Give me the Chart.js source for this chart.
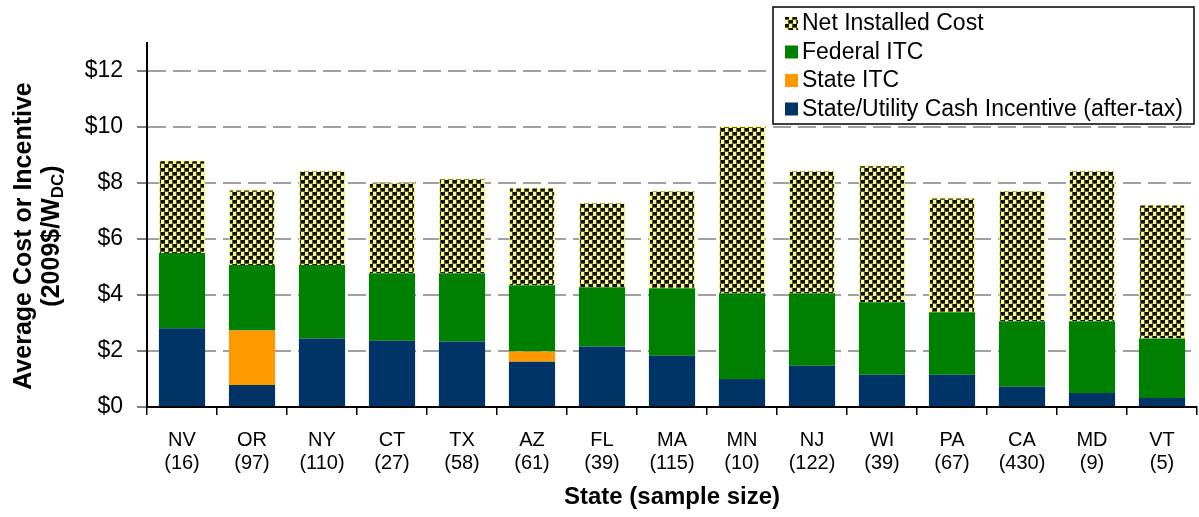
<!DOCTYPE html>
<html>
<head>
<meta charset="utf-8">
<script src="https://cdn.jsdelivr.net/npm/chart.js@4.4.1/dist/chart.umd.min.js"></script>
<style>
  html, body { margin: 0; padding: 0; background: #fff; }
  #wrap { width: 1199px; height: 517px; }
</style>
</head>
<body>
<div id="wrap"><canvas id="costChart"></canvas></div>
<script>
// values, $/W (2009$)
const states = ['NV', 'OR', 'NY', 'CT', 'TX', 'AZ', 'FL', 'MA', 'MN', 'NJ', 'WI', 'PA', 'CA', 'MD', 'VT'];
const sampleSizes = [16, 97, 110, 27, 58, 61, 39, 115, 10, 122, 39, 67, 430, 9, 5];
const cashIncentive = [2.81, 0.79, 2.45, 2.37, 2.34, 1.62, 2.16, 1.83, 1.00, 1.47, 1.15, 1.15, 0.72, 0.50, 0.32];
const stateItc = [0, 1.94, 0, 0, 0, 0.36, 0, 0, 0, 0, 0, 0, 0, 0, 0];
const federalItc = [2.69, 2.34, 2.62, 2.41, 2.44, 2.37, 2.12, 2.41, 3.06, 2.59, 2.59, 2.23, 2.34, 2.56, 2.13];
const netCost = [3.31, 2.70, 3.38, 3.24, 3.39, 3.49, 3.02, 3.49, 5.98, 4.39, 4.89, 4.10, 4.67, 5.39, 4.78];
const yTicks = [0, 2, 4, 6, 8, 10, 12];

const SANS = "'Liberation Sans', Arial, sans-serif";

// dotted fill for the net cost segment
function makeDots() {
    const c = document.createElement('canvas');
    c.width = 8; c.height = 8;
    const g = c.getContext('2d');
    g.fillStyle = '#fafa8c';
    g.fillRect(0, 0, 8, 8);
    g.fillStyle = '#5c5c38';
    [[0, 0, 5, 4], [4, 4, 4, 4], [0, 4, 1, 4]].forEach(r => g.fillRect(r[0], r[1], r[2], r[3]));
    g.fillStyle = '#111';
    [[1, 0, 4, 3], [5, 4, 3, 3], [0, 4, 1, 3]].forEach(r => g.fillRect(r[0], r[1], r[2], r[3]));
    return g.createPattern(c, 'repeat');
}
const dots = makeDots();

const legendItems = [
    { text: 'Net Installed Cost', color: dots },
    { text: 'Federal ITC', color: '#008000' },
    { text: 'State ITC', color: '#ff9900' },
    { text: 'State/Utility Cash Incentive (after-tax)', color: '#003366' }
];

// legend box floating top right
const boxLegend = {
    id: 'boxLegend',
    afterDraw(chart) {
        const ctx = chart.ctx;
        const x = 773, y = 7, w = 421, h = 117;
        ctx.save();
        ctx.fillStyle = '#fff';
        ctx.fillRect(x, y, w, h);
        ctx.strokeStyle = '#000';
        ctx.lineWidth = 1.5;
        ctx.strokeRect(x, y, w, h);
        ctx.font = '23px ' + SANS;
        ctx.textBaseline = 'middle';
        legendItems.forEach((it, i) => {
            const cy = y + 16 + i * 28.5;
            ctx.fillStyle = it.color;
            ctx.fillRect(x + 12, cy - 6, 13, 13);
            ctx.fillStyle = '#000';
            ctx.fillText(it.text, x + 29, cy + 1);
        });
        ctx.restore();
    }
};

// rotated y title with subscript
const yTitle = {
    id: 'yTitle',
    afterDraw(chart) {
        const ctx = chart.ctx;
        const cy = 236;
        const big = 'bold 25px ' + SANS, small = 'bold 17px ' + SANS;
        ctx.save();
        ctx.fillStyle = '#000';
        ctx.textBaseline = 'middle';
        ctx.translate(24, cy);
        ctx.rotate(-Math.PI / 2);
        ctx.font = big;
        ctx.textAlign = 'center';
        ctx.fillText('Average Cost or Incentive', 0, 0);
        ctx.restore();

        ctx.save();
        ctx.fillStyle = '#000';
        ctx.textBaseline = 'middle';
        ctx.translate(52, cy);
        ctx.rotate(-Math.PI / 2);
        ctx.font = big;
        const a = '(2009$/W', c = ')';
        const wa = ctx.measureText(a).width, wc = ctx.measureText(c).width;
        ctx.font = small;
        const wb = ctx.measureText('DC').width;
        const x0 = -(wa + wb + wc) / 2;
        ctx.textAlign = 'left';
        ctx.font = big;
        ctx.fillText(a, x0, 0);
        ctx.font = small;
        ctx.fillText('DC', x0 + wa, 6);
        ctx.font = big;
        ctx.fillText(c, x0 + wa + wb, 0);
        ctx.restore();
    }
};

const ctx = document.getElementById('costChart').getContext('2d');
new Chart(ctx, {
    type: 'bar',
    data: {
        labels: states.map((s, i) => [s, '(' + sampleSizes[i] + ')']),
        datasets: [
            { label: 'State/Utility Cash Incentive (after-tax)', data: cashIncentive, backgroundColor: '#003366' },
            { label: 'State ITC', data: stateItc, backgroundColor: '#ff9900' },
            { label: 'Federal ITC', data: federalItc, backgroundColor: '#008000' },
            { label: 'Net Installed Cost', data: netCost, backgroundColor: dots, borderColor: '#ffff99', borderWidth: 1 }
        ]
    },
    options: {
        responsive: true,
        maintainAspectRatio: false,
        animation: false,
        layout: { padding: { left: 75, top: 43, right: 2, bottom: 0 } },
        datasets: { bar: { barPercentage: 0.66, categoryPercentage: 1 } },
        plugins: {
            legend: { display: false },
            tooltip: { enabled: false }
        },
        scales: {
            x: {
                stacked: true,
                afterFit: s => { s.height = 110; },
                grid: { drawOnChartArea: false, drawTicks: true, tickLength: 8, color: '#000', lineWidth: 1.5 },
                border: { color: '#000', width: 2 },
                ticks: { color: '#000', font: { family: SANS, size: 20, lineHeight: 1.15 }, padding: 14, maxRotation: 0 },
                title: {
                    display: true,
                    text: 'State (sample size)',
                    color: '#000',
                    font: { family: SANS, size: 24, weight: 'bold' },
                    padding: { top: 0, bottom: 5 }
                }
            },
            y: {
                stacked: true,
                min: 0,
                max: 13,
                afterFit: s => { s.width = 72; },
                afterBuildTicks: s => { s.ticks = yTicks.map(v => ({ value: v })); },
                grid: { color: '#a0a0a0', lineWidth: 2, tickLength: 10, tickColor: '#555', tickWidth: 1.5, tickBorderDash: [] },
                border: { color: '#000', width: 2, dash: [18, 7] },
                ticks: {
                    color: '#000',
                    font: { family: SANS, size: 23 },
                    padding: 14,
                    callback: v => '$' + v
                }
            }
        }
    },
    plugins: [boxLegend, yTitle]
});
</script>
</body>
</html>
